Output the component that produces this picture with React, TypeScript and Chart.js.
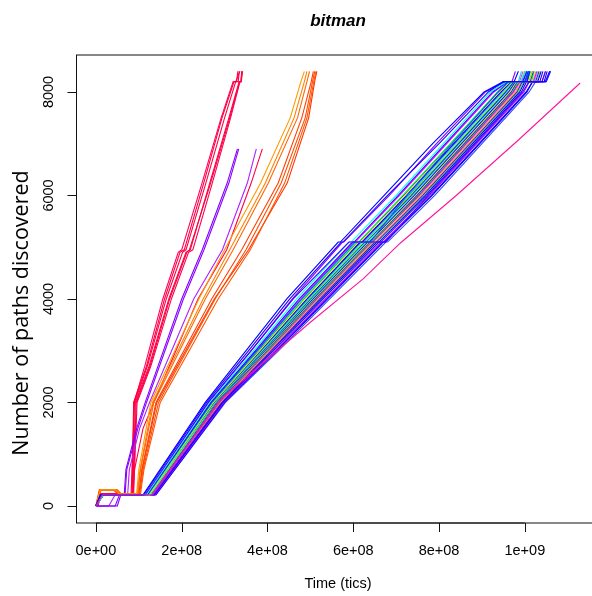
import { useEffect, useRef } from "react";
import { Chart, registerables } from "chart.js";

Chart.register(...registerables);

// x values below are in millions of tics
const X_UNIT = 1e6;
const X_MIN = -4.52e7;
const X_MAX = 1.1752e9;
const Y_MIN = -330;
const Y_MAX = 8715;

const X_TICKS = [0, 2e8, 4e8, 6e8, 8e8, 1e9];
const X_TICK_LABELS = ["0e+00", "2e+08", "4e+08", "6e+08", "8e+08", "1e+09"];
const Y_TICKS = [0, 2000, 4000, 6000, 8000];
const Y_TICK_LABELS = ["0", "2000", "4000", "6000", "8000"];

const TITLE = "bitman";
const X_TITLE = "Time (tics)";
const Y_TITLE = "Number of paths discovered";

// fast crimson runs
const CRIMSON_LEVELS = [0, 230, 230, 2000, 2700, 4000, 4900, 4950, 6200, 7500, 8200, 8200, 8400];
const CRIMSON_RUNS = [
  [0, 10, 84, 88, 118, 160, 196, 206, 250, 294, 322, 328, 331],
  [0, 12, 86, 92, 124, 170, 210, 220, 264, 310, 334, 338, 341],
  [0, 8, 82, 90, 120, 164, 202, 210, 255, 300, 326, 332, 334],
  [0, 15, 88, 96, 128, 176, 216, 226, 270, 314, 336, 339, 342],
  [0, 10, 85, 89, 114, 156, 192, 200, 246, 292, 320, 326, 336],
  [0, 14, 87, 94, 126, 172, 212, 218, 266, 312, 335, 338, 340],
];
const CRIMSON_COLORS = ["#FF0033", "#FF0040", "#FF004D", "#FF0059", "#FF0066", "#F5003D"];

// runs that stop at 6900
const VIOLET_LEVELS = [0, 0, 215, 215, 700, 1500, 2000, 4000, 4950, 6240, 6900];
const VIOLET_RUNS = [
  [0, 50, 58, 66, 70, 95, 115, 200, 248, 306, 330],
  [0, 45, 55, 68, 72, 98, 118, 204, 252, 310, 333],
  [0, 30, 45, 74, 78, 102, 125, 228, 295, 353, 374],
  [0, 5, 12, 85, 90, 110, 135, 238, 305, 362, 388],
];
const VIOLET_COLORS = ["#8000FF", "#8C00FF", "#B020FF", "#FF0048"];

// orange runs
const ORANGE_LEVELS = [0, 310, 310, 230, 230, 700, 2000, 4000, 4950, 6240, 7500, 8200, 8400];
const ORANGE_RUNS = [
  [0, 10, 45, 55, 95, 100, 128, 240, 300, 384, 453, 478, 486],
  [0, 12, 50, 60, 98, 104, 135, 255, 320, 402, 470, 492, 498],
  [0, 8, 40, 52, 100, 107, 140, 270, 340, 425, 480, 502, 507],
  [0, 11, 48, 58, 102, 110, 146, 278, 350, 432, 488, 505, 510],
  [0, 9, 42, 54, 104, 112, 150, 285, 360, 440, 492, 508, 513],
  [0, 12, 46, 56, 100, 108, 142, 276, 356, 446, 496, 510, 515],
  [0, 10, 44, 55, 96, 103, 132, 250, 312, 395, 462, 486, 492],
];
const ORANGE_COLORS = ["#FF9900", "#FF6600", "#FF4000", "#FF4D00", "#FF5500", "#FF3300", "#FF8000"];

// main bundle
const BUNDLE_LEVELS = [0, 215, 215, 2000, 3000, 4000, 5100, 5100, 6000, 7000, 8000, 8200, 8200, 8400];
const BUNDLE_RUNS = [
  [0, 10, 110, 255, 350, 445, 565, 570, 672, 785, 905, 950, 975, 985],
  [0, 12, 112, 258, 356, 452, 572, 576, 680, 800, 915, 950, 1048, 1058],
  [0, 14, 115, 262, 362, 460, 590, 676, 775, 885, 995, 1010, 1040, 1048],
  [0, 16, 118, 265, 368, 468, 590, 595, 700, 810, 920, 958, 990, 1000],
  [0, 12, 120, 268, 372, 474, 598, 602, 705, 815, 925, 960, 995, 1005],
  [0, 15, 120, 270, 376, 480, 604, 640, 725, 830, 938, 962, 1000, 1010],
  [0, 18, 122, 272, 378, 484, 608, 612, 715, 826, 936, 964, 995, 1003],
  [0, 13, 124, 274, 382, 488, 612, 616, 720, 830, 940, 966, 990, 998],
  [0, 15, 122, 275, 384, 492, 616, 620, 724, 834, 944, 968, 1000, 1008],
  [0, 17, 125, 276, 386, 495, 620, 625, 728, 838, 948, 970, 985, 992],
  [0, 12, 126, 278, 388, 498, 624, 628, 732, 842, 952, 972, 1010, 1018],
  [0, 14, 124, 279, 390, 500, 626, 630, 735, 845, 955, 975, 1005, 1012],
  [0, 16, 127, 280, 392, 503, 630, 634, 738, 848, 958, 976, 1000, 1006],
  [0, 15, 128, 282, 394, 506, 633, 637, 742, 852, 962, 978, 1012, 1020],
  [0, 13, 126, 283, 396, 508, 636, 640, 745, 855, 965, 980, 1008, 1015],
  [0, 18, 130, 285, 398, 510, 638, 642, 748, 858, 968, 982, 1005, 1010],
  [0, 12, 128, 278, 388, 496, 615, 620, 730, 846, 956, 975, 1000, 1010],
  [0, 15, 130, 286, 400, 512, 640, 644, 750, 860, 970, 985, 1015, 1022],
  [0, 14, 132, 288, 402, 515, 642, 646, 754, 864, 974, 988, 1020, 1028],
  [0, 16, 130, 290, 405, 518, 646, 650, 758, 868, 978, 990, 1018, 1026],
  [0, 13, 134, 292, 408, 522, 650, 654, 762, 872, 982, 994, 1025, 1033],
  [0, 15, 136, 294, 410, 526, 655, 660, 768, 878, 988, 1000, 1030, 1038],
  [0, 17, 136, 296, 414, 530, 660, 664, 772, 882, 992, 1004, 1035, 1042],
  [0, 14, 138, 298, 418, 535, 665, 669, 778, 888, 998, 1010, 1040, 1048],
  [0, 12, 140, 300, 422, 540, 670, 674, 784, 895, 1005, 1018, 1045, 1052],
  [0, 16, 140, 302, 426, 545, 676, 680, 790, 900, 1010, 1025, 1048, 1058],
  [0, 14, 125, 268, 374, 478, 600, 605, 708, 818, 928, 960, 988, 996],
  [0, 18, 126, 276, 385, 494, 618, 622, 726, 836, 946, 968, 992, 1000],
  [0, 15, 128, 280, 390, 500, 625, 629, 733, 843, 953, 973, 1002, 1010],
  [0, 13, 129, 284, 395, 507, 634, 638, 744, 854, 964, 980, 1006, 1014],
  [0, 17, 131, 287, 401, 513, 641, 645, 752, 862, 972, 986, 1010, 1018],
  [0, 12, 118, 262, 362, 458, 575, 578, 684, 794, 908, 955, 970, 978],
  [0, 16, 138, 298, 420, 538, 668, 672, 782, 893, 1003, 1018, 1050, 1060],
  [0, 14, 133, 290, 406, 520, 648, 652, 760, 870, 980, 992, 1022, 1030],
  [0, 15, 123, 273, 380, 486, 610, 614, 718, 828, 938, 962, 996, 1004],
  [0, 16, 135, 293, 409, 524, 652, 656, 765, 875, 985, 997, 1028, 1036],
];
const BUNDLE_COLORS = [
  "#0000FF", "#2200FF", "#4400FF", "#00FFFF", "#3300FF", "#0055FF", "#00FF66", "#FFEE00",
  "#0000FF", "#00CCFF", "#88FF00", "#0022FF", "#00FFAA", "#3300FF", "#CCFF00", "#5500FF",
  "#6600FF", "#00FF22", "#FF00FF", "#FFAA00", "#7700FF", "#0000FF", "#2200EE", "#CC00FF",
  "#0000FF", "#3344FF", "#FF00FF", "#AA00FF", "#FF00CC", "#0099FF", "#0000EE", "#8000FF",
  "#1100FF", "#00EEFF", "#1100FF", "#44FF00",
];

// slow outlier
const PINK_LEVELS = [0, 215, 215, 2050, 3550, 4387, 5082, 6000, 7072, 8174];
const PINK_RUNS = [[0, 15, 130, 290, 500, 623, 710, 840, 985, 1129]];
const PINK_COLORS = ["#FF14A0"];

const LABEL_FONT = "14.5px 'Liberation Sans', Arial, sans-serif";

function toDatasets(levels: number[], runs: number[][], colors: string[]) {
  return runs.map((xs, i) => ({
    data: xs.map((x, j) => ({ x: x * X_UNIT, y: levels[j] })),
    borderColor: colors[i],
    backgroundColor: colors[i],
    borderWidth: 1.1,
    showLine: true,
    pointRadius: 0,
    tension: 0,
    fill: false,
  }));
}

const axesPlugin = {
  id: "rAxes",
  afterDraw(chart: any) {
    const ctx = chart.ctx as CanvasRenderingContext2D;
    const area = chart.chartArea;
    const xs = chart.scales.x;
    const ys = chart.scales.y;
    ctx.save();
    ctx.strokeStyle = "#111";
    ctx.lineWidth = 1;
    ctx.strokeRect(area.left, area.top, area.right - area.left, area.bottom - area.top);
    ctx.beginPath();
    const x0 = xs.getPixelForValue(X_TICKS[0]);
    const x1 = xs.getPixelForValue(X_TICKS[X_TICKS.length - 1]);
    ctx.moveTo(x0, area.bottom);
    ctx.lineTo(x1, area.bottom);
    X_TICKS.forEach((v) => {
      const px = Math.round(xs.getPixelForValue(v)) + 0.5;
      ctx.moveTo(px, area.bottom);
      ctx.lineTo(px, area.bottom + 9);
    });
    const y0 = ys.getPixelForValue(Y_TICKS[0]);
    const y1 = ys.getPixelForValue(Y_TICKS[Y_TICKS.length - 1]);
    ctx.moveTo(area.left, y0);
    ctx.lineTo(area.left, y1);
    Y_TICKS.forEach((v) => {
      const py = Math.round(ys.getPixelForValue(v)) + 0.5;
      ctx.moveTo(area.left, py);
      ctx.lineTo(area.left - 9, py);
    });
    ctx.stroke();

    ctx.fillStyle = "#000";
    ctx.font = LABEL_FONT;
    ctx.textAlign = "center";
    ctx.textBaseline = "middle";
    X_TICKS.forEach((v, i) => {
      ctx.fillText(X_TICK_LABELS[i], xs.getPixelForValue(v), 551);
    });
    Y_TICKS.forEach((v, i) => {
      ctx.save();
      ctx.translate(49, ys.getPixelForValue(v));
      ctx.rotate(-Math.PI / 2);
      ctx.fillText(Y_TICK_LABELS[i], 0, 0);
      ctx.restore();
    });
    ctx.fillText(X_TITLE, 338, 584);
    ctx.font = "bold italic 17px 'Liberation Sans', Arial, sans-serif";
    ctx.fillText(TITLE, 338, 21);
    ctx.save();
    ctx.translate(22, 313);
    ctx.rotate(-Math.PI / 2);
    ctx.font = "21.5px 'Open Sans', 'Noto Sans', sans-serif";
    ctx.fillText(Y_TITLE, 0, 0);
    ctx.restore();
    ctx.restore();
  },
};

export default function App() {
  const canvasRef = useRef<HTMLCanvasElement | null>(null);

  useEffect(() => {
    const canvas = canvasRef.current;
    if (!canvas) return;
    const datasets = [
      ...toDatasets(PINK_LEVELS, PINK_RUNS, PINK_COLORS),
      ...toDatasets(BUNDLE_LEVELS, BUNDLE_RUNS, BUNDLE_COLORS),
      ...toDatasets(ORANGE_LEVELS, ORANGE_RUNS, ORANGE_COLORS),
      ...toDatasets(VIOLET_LEVELS, VIOLET_RUNS, VIOLET_COLORS),
      ...toDatasets(CRIMSON_LEVELS, CRIMSON_RUNS, CRIMSON_COLORS),
    ];
    const chart = new Chart(canvas, {
      type: "scatter",
      data: { datasets: datasets as any },
      options: {
        animation: false,
        responsive: false,
        maintainAspectRatio: false,
        layout: { padding: { left: 76.5, top: 55, right: 0, bottom: 73 } },
        plugins: {
          legend: { display: false },
          tooltip: { enabled: false },
          title: { display: false },
        },
        events: [],
        scales: {
          x: { type: "linear", display: false, min: X_MIN, max: X_MAX },
          y: { type: "linear", display: false, min: Y_MIN, max: Y_MAX },
        },
      },
      plugins: [axesPlugin],
    });
    return () => chart.destroy();
  }, []);

  return (
    <div
      style={{
        position: "fixed",
        left: 0,
        top: 0,
        width: 592,
        height: 596,
        overflow: "hidden",
        background: "#fff",
      }}
    >
      <canvas ref={canvasRef} width={600} height={596} style={{ width: 600, height: 596, display: "block" }} />
    </div>
  );
}
